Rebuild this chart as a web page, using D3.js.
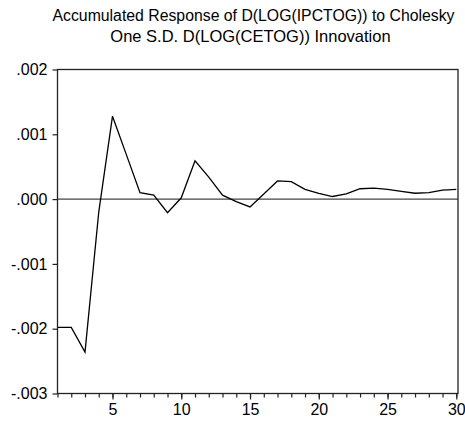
<!DOCTYPE html>
<html>
<head>
<meta charset="utf-8">
<script src="https://cdn.jsdelivr.net/npm/d3@7"></script>
<style>
  html, body { margin: 0; padding: 0; background: #fff; }
  svg { display: block; }
  text { font-family: "Liberation Sans", Arial, sans-serif; fill: #000; }
</style>
</head>
<body>
<svg id="chart" width="465" height="423"></svg>
<script>
// Accumulated impulse response, periods 1..30
const periods = d3.range(1, 31);
const response = [
  -0.00198, -0.00198, -0.00236, -0.00020, 0.00128, 0.00069, 0.00010, 0.00006,
  -0.00021, 0.00002, 0.00059, 0.00034, 0.00006, -0.00004, -0.00012, 0.00008,
  0.00028, 0.00027, 0.00015, 0.00009, 0.00004, 0.00008, 0.00016, 0.00017,
  0.00015, 0.00012, 0.00009, 0.00010, 0.00014, 0.00015
];
const yTicks = [-0.003, -0.002, -0.001, 0, 0.001, 0.002];
const xMajorTicks = [5, 10, 15, 20, 25, 30];
const titleLines = [
  "Accumulated Response of D(LOG(IPCTOG)) to Cholesky",
  "One S.D. D(LOG(CETOG)) Innovation"
];

const svg = d3.select("#chart");
const plot = { left: 57.5, right: 458, top: 69.5, bottom: 393.5 };

const x = d3.scaleLinear().domain([1, 30]).range([plot.left, 456.3]);
const y = d3.scaleLinear().domain([-0.003, 0.002]).range([plot.bottom, plot.top]);

// ".002", "-.001" style labels with a plain hyphen
const fmt = v => {
  if (v === 0) return ".000";
  return d3.format(".3f")(v).replace("\u2212", "-").replace("0.", ".");
};

// title
svg.append("text")
  .attr("x", 253.5).attr("y", 20.5)
  .attr("text-anchor", "middle")
  .attr("font-size", 16)
  .attr("textLength", 402)
  .attr("lengthAdjust", "spacingAndGlyphs")
  .text(titleLines[0]);
svg.append("text")
  .attr("x", 250.5).attr("y", 42)
  .attr("text-anchor", "middle")
  .attr("font-size", 16.5)
  .text(titleLines[1]);

// zero reference line
svg.append("line")
  .attr("x1", plot.left).attr("x2", plot.right)
  .attr("y1", y(0)).attr("y2", y(0))
  .attr("stroke", "#444").attr("stroke-width", 1.2);

// response line
svg.append("path")
  .datum(periods.map((p, i) => [p, response[i]]))
  .attr("fill", "none")
  .attr("stroke", "#000")
  .attr("stroke-width", 1.3)
  .attr("d", d3.line().x(d => x(d[0])).y(d => y(d[1])));

// frame
svg.append("rect")
  .attr("x", plot.left).attr("y", plot.top)
  .attr("width", plot.right - plot.left).attr("height", plot.bottom - plot.top)
  .attr("fill", "none").attr("stroke", "#222").attr("stroke-width", 1.3);

// left axis
const yAxis = d3.axisLeft(y).tickValues(yTicks).tickSize(5).tickPadding(5).tickFormat(fmt);
const gy = svg.append("g").attr("transform", `translate(${plot.left},0)`).call(yAxis);
gy.select(".domain").remove();
gy.selectAll("line").attr("stroke", "#222").attr("stroke-width", 1.2);
gy.selectAll("text").attr("font-size", 16).attr("fill", "#000")
  .style("font-family", "Liberation Sans, Arial, sans-serif");

// bottom axis: minor ticks every period, major labelled ticks every 5
const xMinor = d3.axisBottom(x).tickValues(periods).tickSize(4).tickFormat("");
const gxm = svg.append("g").attr("transform", `translate(0,${plot.bottom})`).call(xMinor);
gxm.select(".domain").remove();
gxm.selectAll("line").attr("stroke", "#222").attr("stroke-width", 1.2);

const xAxis = d3.axisBottom(x).tickValues(xMajorTicks).tickSize(6).tickPadding(4).tickFormat(d3.format("d"));
const gx = svg.append("g").attr("transform", `translate(0,${plot.bottom})`).call(xAxis);
gx.select(".domain").remove();
gx.selectAll("line").attr("stroke", "#222").attr("stroke-width", 1.2);
gx.selectAll("text").attr("font-size", 16).attr("fill", "#000")
  .style("font-family", "Liberation Sans, Arial, sans-serif");
</script>
</body>
</html>
